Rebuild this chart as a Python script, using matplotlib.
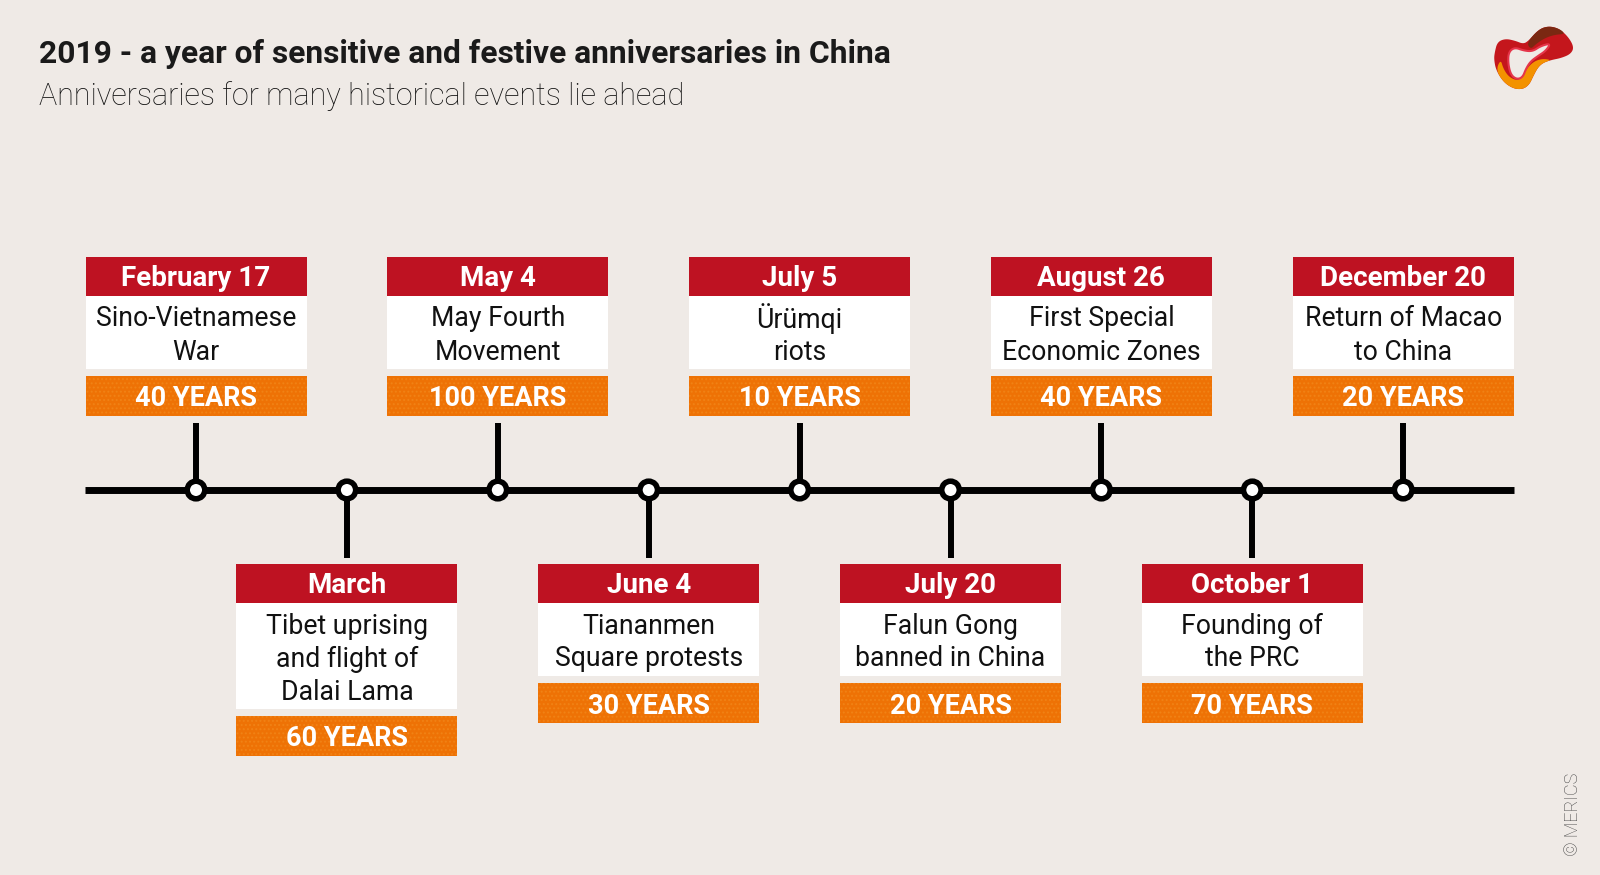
"""2019 anniversaries timeline (MERICS style), drawn in pixel coordinates."""
import matplotlib
matplotlib.use("Agg")
import numpy as np
import matplotlib.pyplot as plt
from matplotlib.patches import Rectangle, Circle, Polygon

plt.rcParams["font.family"] = ["Roboto", "DejaVu Sans"]
plt.rcParams["hatch.linewidth"] = 1.0

# data -------------------------------------------------------------------------
dates = ["February 17", "March", "May 4", "June 4", "July 5",
         "July 20", "August 26", "October 1", "December 20"]
events = [
    ["Sino-Vietnamese", "War"],
    ["Tibet uprising", "and flight of", "Dalai Lama"],
    ["May Fourth", "Movement"],
    ["Tiananmen", "Square protests"],
    ["Ürümqi", "riots"],
    ["Falun Gong", "banned in China"],
    ["First Special", "Economic Zones"],
    ["Founding of", "the PRC"],
    ["Return of Macao", "to China"],
]
years = [40, 60, 100, 30, 10, 20, 40, 70, 20]

TITLE = "2019 - a year of sensitive and festive anniversaries in China"
SUBTITLE = "Anniversaries for many historical events lie ahead"

# style ------------------------------------------------------------------------
BG = "#EFEAE6"
RED = "#BE1222"
ORANGE = "#EE7205"
SPECK = "#F6A033"
W, H = 1600, 875
X0, DX = 196, 150.9
LINE_Y = 490
BOX_W = 221
HEAD_H = 39
LINE_H = 33
YEAR_H = 40
GAP = 7

fig = plt.figure(figsize=(W / 100, H / 100), dpi=100, facecolor=BG)
ax = fig.add_axes([0, 0, 1, 1])
ax.set_xlim(0, W)
ax.set_ylim(H, 0)
ax.axis("off")
ax.set_facecolor(BG)

# timeline
ax.plot([85, 1514], [LINE_Y, LINE_Y], color="black", lw=5, solid_capstyle="butt", zorder=2)


def draw_box(xc, top, date, lines, yrs):
    left = xc - BOX_W / 2
    ax.add_patch(Rectangle((left, top), BOX_W, HEAD_H, fc=RED, ec="none", zorder=3))
    ax.text(xc, top + HEAD_H / 2 + 2, date, ha="center", va="center",
            color="white", fontsize=20, fontweight="bold", zorder=4)
    wh = 7 + LINE_H * len(lines)
    wtop = top + HEAD_H
    ax.add_patch(Rectangle((left, wtop), BOX_W, wh, fc="white", ec="none", zorder=3))
    first = wtop + wh / 2 - LINE_H * (len(lines) - 1) / 2 + 3
    for k, ln in enumerate(lines):
        ax.text(xc, first + k * LINE_H, ln, ha="center", va="center",
                color="#111111", fontsize=19.2, zorder=4)
    ytop = wtop + wh + GAP
    ax.add_patch(Rectangle((left, ytop), BOX_W, YEAR_H, fc=ORANGE, ec="none", zorder=3))
    ax.add_patch(Rectangle((left, ytop), BOX_W, YEAR_H, fc="none", ec=SPECK,
                           lw=0, hatch="....", alpha=0.3, zorder=3.5))
    ax.text(xc, ytop + YEAR_H / 2 + 3, f"{yrs} YEARS", ha="center", va="center",
            color="white", fontsize=19.5, fontweight="bold", zorder=4)
    return ytop + YEAR_H


for i, (d, ev, yr) in enumerate(zip(dates, events, years)):
    xc = X0 + i * DX
    if i % 2 == 0:
        # box above the line
        draw_box(xc, 257, d, ev, yr)
        ax.plot([xc, xc], [423, LINE_Y], color="black", lw=4.3,
                solid_capstyle="butt", zorder=2)
    else:
        draw_box(xc, 564, d, ev, yr)
        ax.plot([xc, xc], [LINE_Y, 558], color="black", lw=4.3,
                solid_capstyle="butt", zorder=2)
    ax.add_patch(Circle((xc, LINE_Y), 8.8, fc="white", ec="black", lw=4, zorder=5))

# titles
ax.text(39, 63, TITLE, ha="left", va="baseline", fontsize=22.9,
        fontweight="bold", color="#1A1A1A")
ax.text(39, 105, SUBTITLE, ha="left", va="baseline", fontsize=22.0,
        fontweight="light", color="#111111")

# copyright
ax.text(1573, 856, "© MERICS", rotation=90, ha="center", va="bottom",
        fontsize=13, fontweight="light", color="#444444")


# logo (rough sketch of the MERICS mark) ---------------------------------------
def smooth(pts, n=3):
    p = np.asarray(pts, float)
    for _ in range(n):
        q = 0.75 * p + 0.25 * np.roll(p, -1, axis=0)
        r = 0.25 * p + 0.75 * np.roll(p, -1, axis=0)
        p = np.empty((2 * len(q), 2))
        p[0::2], p[1::2] = q, r
    return p


def sc(pts):
    p = smooth(pts)
    return np.column_stack([1490 + p[:, 0] / 3, 22 + p[:, 1] / 3])


outer = [(14, 92), (22, 60), (46, 50), (75, 56), (100, 66), (116, 56),
         (146, 22), (176, 12), (208, 20), (236, 46), (252, 76), (242, 96),
         (214, 108), (184, 114), (160, 122), (144, 136), (130, 162),
         (118, 188), (98, 202), (70, 200), (40, 180), (18, 144), (12, 112)]
band = [(18, 144), (40, 180), (70, 200), (98, 202), (118, 188), (130, 162),
        (144, 136), (160, 122), (184, 114), (158, 110), (132, 118),
        (110, 140), (98, 166), (80, 176), (56, 164), (40, 140), (32, 112)]
brown = [(110, 62), (146, 22), (176, 12), (208, 20), (226, 36), (195, 38),
         (165, 48), (138, 66), (122, 82)]
hole = [(56, 90), (74, 76), (102, 86), (128, 88), (152, 72), (182, 64),
        (168, 86), (144, 102), (122, 118), (108, 140), (98, 166),
        (80, 172), (62, 158), (54, 122)]

ax.add_patch(Polygon(sc(outer), closed=True, fc="#C4161C", ec="none", zorder=6))
ax.add_patch(Polygon(sc(band), closed=True, fc="#F39200", ec="none", zorder=6.5))
ax.add_patch(Polygon(sc(brown), closed=True, fc="#7A2812", ec="none", zorder=6.5))
ax.add_patch(Polygon(sc(hole), closed=True, fc=BG, ec="#E5354A", lw=1.5, zorder=7))

fig.savefig("out.png", dpi=100, facecolor=BG)
